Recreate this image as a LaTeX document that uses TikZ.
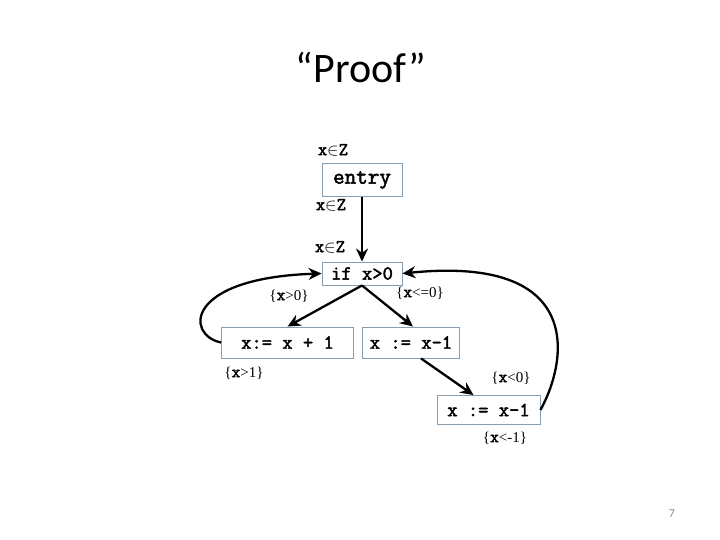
\documentclass[tikz,border=0pt]{standalone}
\usepackage{fontspec}
\usepackage{tikz}
\usetikzlibrary{arrows.meta}
\setmainfont{Liberation Serif}
\newfontfamily\titlefont{Carlito}
\newfontfamily\codefont{Latin Modern Mono}[FakeBold=2.2]
\definecolor{SLBoxEdge}{HTML}{8A9DAE}
\definecolor{SLNumGrey}{HTML}{8C8C8C}
\newcommand{\inZ}{{\codefont x}\ensuremath{\in}{\codefont Z}}
\newcommand{\cx}{{\fontsize{17}{18}\selectfont\codefont x}}

\begin{document}
\begin{tikzpicture}[x=1pt, y=1pt,
  stmt/.style={draw=SLBoxEdge, line width=0.9pt, fill=white, inner sep=0pt,
    minimum height=31pt, font=\fontsize{20}{22}\selectfont\codefont},
  fact/.style={inner sep=0pt, font=\fontsize{18}{20}\selectfont},
  cond/.style={inner sep=0pt, font=\fontsize{15}{18}\selectfont},
  flow/.style={line width=2.3pt, -{Stealth[length=13pt, width=12pt]}},
]
  \useasboundingbox (0,0) rectangle (720,540);

  \node[font=\titlefont\fontsize{42}{48}\selectfont] (title) at (361,472) {“Proof”};

  \node[stmt, minimum width=80pt, minimum height=33pt, font=\fontsize{22.5}{24}\selectfont\codefont]
    (entry) at (362,360) {entry};
  \node[stmt, minimum width=80pt, minimum height=23pt] (test) at (362,266.5) {if x>0};
  \node[stmt, minimum width=132pt] (inc) at (287.5,197.5) {x:= x + 1};
  \node[stmt, minimum width=97pt] (dec) at (411,197.5) {x := x-1};
  \node[stmt, minimum width=103pt, minimum height=29pt] (decb) at (488.5,130) {x := x-1};

  \node[fact] (pre) at (333,390) {\inZ};
  \node[fact] (postentry) at (331,335) {\inZ};
  \node[fact] (pretest) at (330,293) {\inZ};
  \node[cond] (condT) at (289,244) {\{\cx>0\}};
  \node[cond] (condF) at (420,247) {\{\cx<=0\}};
  \node[cond] (condInc) at (244,167) {\{\cx>1\}};
  \node[cond] (condDec) at (511,162) {\{\cx<0\}};
  \node[cond] (condDecb) at (505,102) {\{\cx<-1\}};

  \node[font=\titlefont\fontsize{12}{14}\selectfont, text=SLNumGrey] (slide) at (672,26) {7};

  \draw[flow] (entry.south) -- (test.north);
  \draw[flow] (test.south) -- (inc.north);
  \draw[flow] (test.south) -- ([xshift=2pt]dec.north);
  \draw[flow] ([xshift=10pt]dec.south) -- ([xshift=-15pt]decb.north);
  \draw[flow] (inc.west) .. controls (185,205) and (185,262) .. (test.west);
  \draw[flow] (decb.east) .. controls (568,180) and (585,285) .. (test.east);
\end{tikzpicture}
\end{document}
